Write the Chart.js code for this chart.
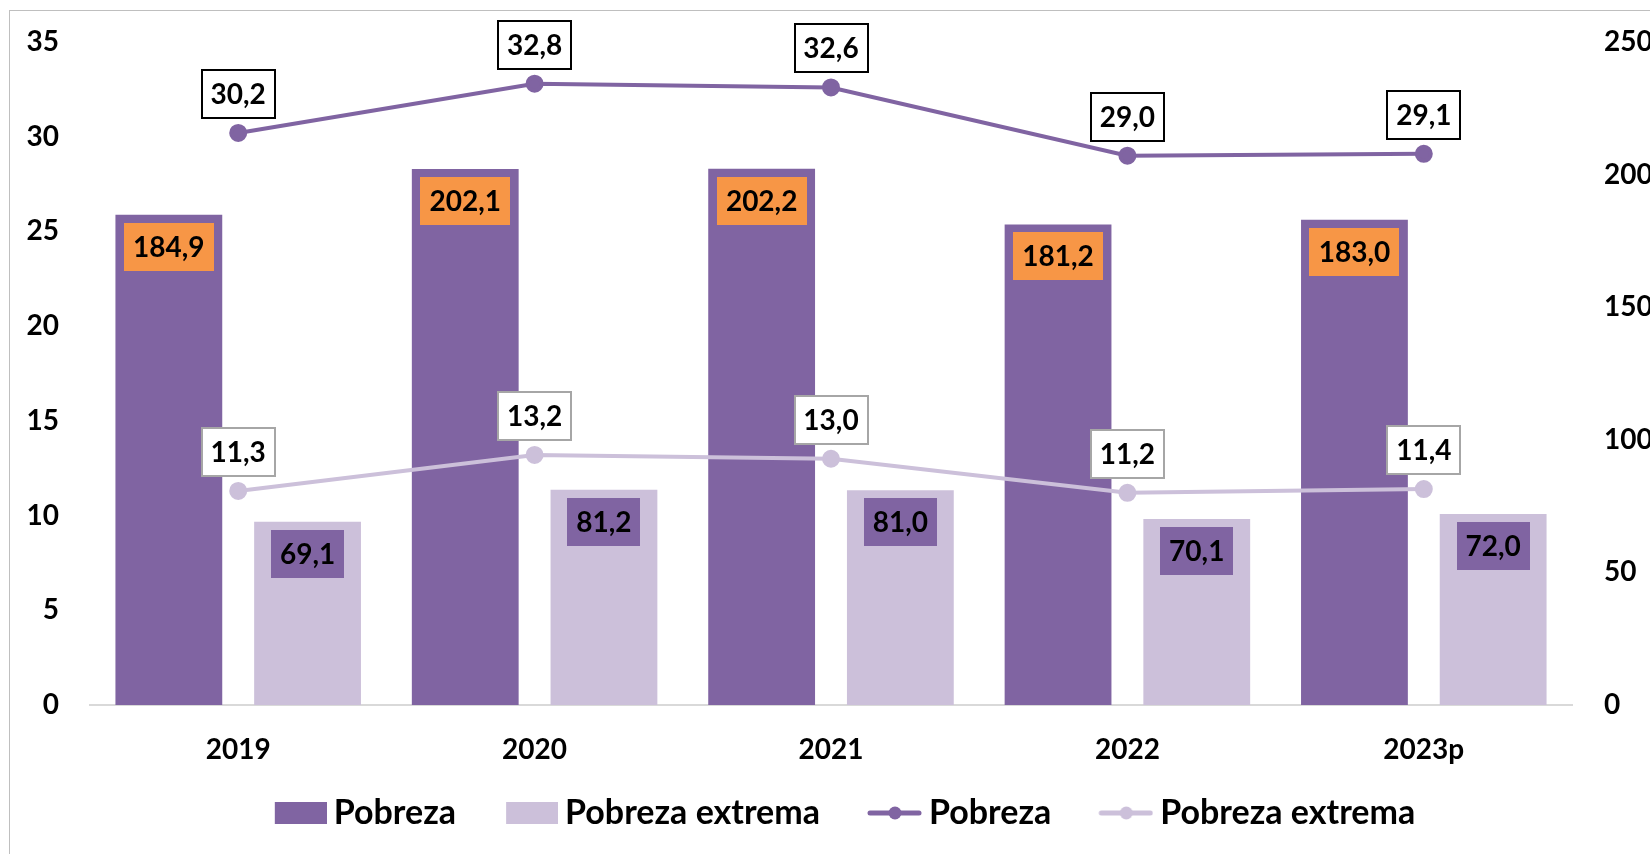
<!DOCTYPE html>
<html>
<head>
<meta charset="utf-8">
<script src="https://cdn.jsdelivr.net/npm/chart.js@4.4.1/dist/chart.umd.min.js"></script>
<style>
  html, body { margin: 0; padding: 0; background: #ffffff; }
  #wrap { position: relative; width: 1650px; height: 854px; overflow: hidden; }
  #frame { position: absolute; left: 9px; top: 10px; width: 1700px; height: 900px; border: 1px solid #bfbfbf; box-sizing: border-box; }
  canvas { position: absolute; left: 0; top: 0; }
</style>
</head>
<body>
<div id="wrap">
  <div id="frame"></div>
  <canvas id="c" width="1650" height="854"></canvas>
</div>
<script>
// ---- data ----
const categories = ['2019', '2020', '2021', '2022', '2023p'];
const pobrezaMiles = [184.9, 202.1, 202.2, 181.2, 183.0];
const extremaMiles = [69.1, 81.2, 81.0, 70.1, 72.0];
const pobrezaPct = [30.2, 32.8, 32.6, 29.0, 29.1];
const extremaPct = [11.3, 13.2, 13.0, 11.2, 11.4];
const seriesNames = ['Pobreza', 'Pobreza extrema', 'Pobreza', 'Pobreza extrema'];

const PURPLE = '#8064A2';
const LILAC = '#CCC0DA';
const ORANGE = '#F79646';
const FONT = 'Lato';

const fmt = v => v.toFixed(1).replace('.', ',');

// legend icons: wide transparent canvas, visible part at the right end
const ICON_W = 102, ICON_H = 26;
function legendBox(color) {
  const c = document.createElement('canvas');
  c.width = ICON_W; c.height = ICON_H;
  const g = c.getContext('2d');
  g.fillStyle = color; g.fillRect(ICON_W - 52, 2, 52, 22);
  return c;
}
function legendLine(color) {
  const c = document.createElement('canvas');
  c.width = ICON_W; c.height = ICON_H;
  const g = c.getContext('2d');
  g.strokeStyle = color; g.lineWidth = 5; g.lineCap = 'round';
  g.beginPath(); g.moveTo(ICON_W - 52, 13); g.lineTo(ICON_W - 3, 13); g.stroke();
  g.fillStyle = color; g.beginPath(); g.arc(ICON_W - 27, 13, 6.5, 0, Math.PI * 2); g.fill();
  return c;
}
const legendIcons = [legendBox(PURPLE), legendBox(LILAC), legendLine(PURPLE), legendLine(LILAC)];

const labelStyles = [
  { bg: ORANGE, border: null, pos: 'inside' },
  { bg: PURPLE, border: null, pos: 'inside' },
  { bg: '#ffffff', border: '#000000', pos: 'above' },
  { bg: '#ffffff', border: '#a6a6a6', pos: 'above' }
];

const boxLabels = {
  id: 'boxLabels',
  afterDatasetsDraw(chart) {
    const ctx = chart.ctx;
    ctx.save();
    ctx.font = 'bold 28px ' + FONT;
    ctx.textAlign = 'center';
    ctx.textBaseline = 'middle';
    chart.data.datasets.forEach((ds, i) => {
      const meta = chart.getDatasetMeta(i);
      const st = labelStyles[i];
      meta.data.forEach((el, j) => {
        const txt = fmt(ds.data[j]);
        const w = Math.round(ctx.measureText(txt).width + 18);
        const h = 48;
        const top = Math.round(st.pos === 'inside' ? el.y + 8 : el.y - 15 - h);
        const left = Math.round(el.x - w / 2);
        ctx.fillStyle = st.bg;
        ctx.fillRect(left, top, w, h);
        if (st.border) {
          ctx.strokeStyle = st.border;
          ctx.lineWidth = 2;
          ctx.strokeRect(left, top, w, h);
        }
        ctx.fillStyle = '#000000';
        ctx.fillText(txt, el.x, top + h / 2 + 1);
      });
    });
    ctx.restore();
  }
};

function noVPad(s) { s.paddingTop = 0; s.paddingBottom = 0; }

new Chart(document.getElementById('c'), {
  data: {
    labels: categories,
    datasets: [
      { type: 'bar', label: seriesNames[0], data: pobrezaMiles, backgroundColor: PURPLE, yAxisID: 'yR', order: 2,
        categoryPercentage: 0.936, barPercentage: 0.77 },
      { type: 'bar', label: seriesNames[1], data: extremaMiles, backgroundColor: LILAC, yAxisID: 'yR', order: 2,
        categoryPercentage: 0.936, barPercentage: 0.77 },
      { type: 'line', label: seriesNames[2], data: pobrezaPct, borderColor: PURPLE, backgroundColor: PURPLE, yAxisID: 'yL', order: 1,
        borderWidth: 4, pointRadius: 7, pointHoverRadius: 7, tension: 0 },
      { type: 'line', label: seriesNames[3], data: extremaPct, borderColor: LILAC, backgroundColor: LILAC, yAxisID: 'yL', order: 1,
        borderWidth: 4, pointRadius: 7, pointHoverRadius: 7, tension: 0 }
    ]
  },
  options: {
    responsive: false,
    animation: false,
    layout: { padding: { left: 0, right: 0, top: 42, bottom: 14 } },
    plugins: {
      tooltip: { enabled: false },
      legend: {
        position: 'bottom',
        labels: {
          usePointStyle: true,
          pointStyleWidth: 82,
          padding: 10,
          color: '#000000',
          font: { family: FONT, size: 34, weight: 'bold' },
          generateLabels(chart) {
            return chart.data.datasets.map((ds, i) => ({
              text: ds.label,
              pointStyle: legendIcons[i],
              fillStyle: 'transparent',
              strokeStyle: 'transparent',
              lineWidth: 0,
              fontColor: '#000000',
              datasetIndex: i,
              hidden: false
            }));
          }
        }
      }
    },
    scales: {
      x: {
        grid: { display: false, drawTicks: false },
        border: { display: true, color: '#d9d9d9', width: 2 },
        ticks: { color: '#000000', padding: 28, font: { family: FONT, size: 28, weight: 'bold' } },
        afterFit(s) { s.height = 81; }
      },
      yL: {
        position: 'left',
        min: 0, max: 35,
        grid: { display: false, drawTicks: false },
        border: { display: false },
        ticks: { stepSize: 5, color: '#000000', padding: 31, font: { family: FONT, size: 28, weight: 'bold' } },
        afterFit(s) { s.width = 90; noVPad(s); }
      },
      yR: {
        position: 'right',
        min: 0, max: 250,
        grid: { display: false, drawTicks: false },
        border: { display: false },
        ticks: { stepSize: 50, color: '#000000', padding: 32, font: { family: FONT, size: 28, weight: 'bold' } },
        afterFit(s) { s.width = 78; noVPad(s); }
      }
    }
  },
  plugins: [boxLabels]
});
</script>
</body>
</html>
